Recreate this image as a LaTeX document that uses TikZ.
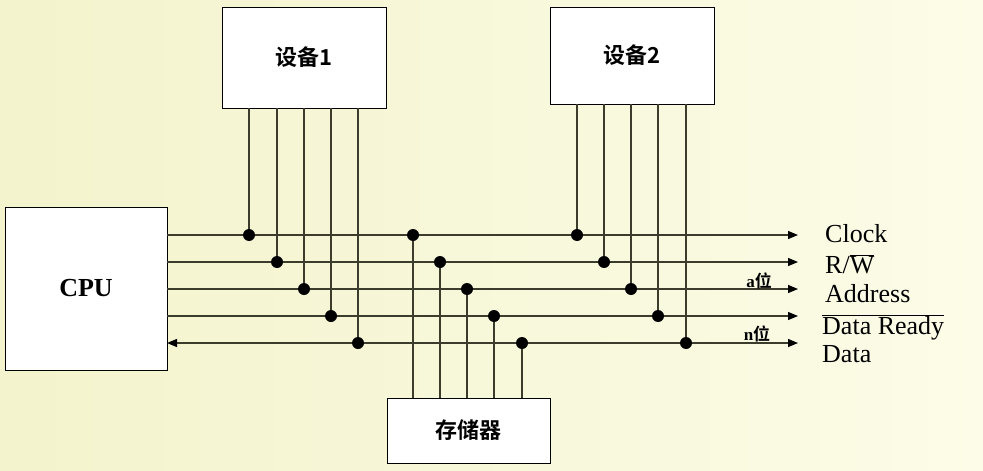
\documentclass[tikz,border=0pt]{standalone}
\usepackage{fontspec}
\setmainfont{Liberation Serif}
\newfontfamily\cjk{Noto Sans CJK SC}[BoldFont={Noto Sans CJK SC Bold}]
\usetikzlibrary{arrows.meta}
\definecolor{bgA}{RGB}{243,243,205}
\definecolor{bgB}{RGB}{252,252,232}
\definecolor{ln}{RGB}{60,60,45}
\begin{document}
\begin{tikzpicture}[x=1pt,y=-1pt,
  box/.style={draw,fill=white,line width=0.8pt},
  tip/.style={Triangle[length=10pt,width=8pt,fill=black,draw=black]},
  bus/.style={line width=1.3pt,draw=ln,-{Triangle[length=10pt,width=8pt,fill=black,color=black]}},
  tap/.style={line width=1.3pt,draw=ln},
  dot/.style={circle,fill=black,inner sep=0pt,minimum size=12pt},
  lbl/.style={anchor=west,font=\fontsize{26}{26}\selectfont,inner sep=0pt}]
\shade[left color=bgA,right color=bgB] (0,0) rectangle (983,471);
\useasboundingbox (0,0) rectangle (983,471);
\node[box,minimum width=164pt,minimum height=101pt] (d1) at (304,57.5) {\cjk\bfseries\fontsize{22}{22}\selectfont 设备1};
\node[box,minimum width=164pt,minimum height=97pt] (d2) at (632,55.5) {\cjk\bfseries\fontsize{22}{22}\selectfont 设备2};
\node[box,minimum width=162pt,minimum height=163pt] (cpu) at (86,288.5) {\bfseries\fontsize{26}{26}\selectfont CPU};
\node[box,minimum width=163pt,minimum height=65pt] (mem) at (468.5,430.5) {\cjk\bfseries\fontsize{22}{22}\selectfont 存储器};
\foreach \i/\y/\a/\b/\c in {1/235/249/577/413, 2/262/277/604/440, 3/289/304/631/467, 4/316/331/658/494, 5/343/358/686/522}{
  \coordinate (s\i) at (167,\y);
  \coordinate (e\i) at (798,\y);
  \coordinate (p\i) at (\a,\y);
  \coordinate (q\i) at (\b,\y);
  \coordinate (m\i) at (\c,\y);
  \draw[tap] (p\i) -- (\a,108); \draw[tap] (q\i) -- (\b,104); \draw[tap] (m\i) -- (\c,398);
}
\foreach \i in {1,2,3,4} \draw[bus] (s\i) -- (e\i);
\draw[bus,{Triangle[length=10pt,width=8pt,fill=black,color=black]}-{Triangle[length=10pt,width=8pt,fill=black,color=black]}] (s5) -- (e5);
\foreach \i in {1,...,5}{\node[dot] at (p\i) {}; \node[dot] at (q\i) {}; \node[dot] at (m\i) {};}
\node[lbl] (l1) at (825,234) {Clock};
\node[lbl] (l2) at (825,264) {R/$\overline{\mbox{W}}$};
\node[lbl] (l3) at (825,294) {Address};
\node[lbl] (l4) at (822,327) {$\overline{\mbox{Data Ready}}$};
\node[lbl] (l5) at (822,354) {Data};
\node[font=\bfseries\fontsize{17}{17}\selectfont,inner sep=0pt] (a) at (759,281) {a{\cjk 位}};
\node[font=\bfseries\fontsize{17}{17}\selectfont,inner sep=0pt] (n) at (757,334) {n{\cjk 位}};
\end{tikzpicture}
\end{document}
